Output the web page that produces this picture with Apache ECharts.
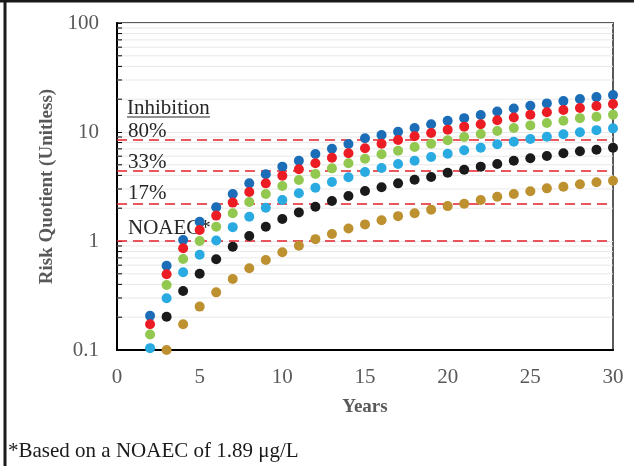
<!DOCTYPE html>
<html>
<head>
<meta charset="utf-8">
<script src="https://cdn.jsdelivr.net/npm/echarts@6/dist/echarts.min.js"></script>
<style>
html,body{margin:0;padding:0;background:#fff;}
#chart{width:634px;height:466px;}
</style>
</head>
<body>
<div id="chart"></div>
<script>
// ---- data ----
const years = [2,3,4,5,6,7,8,9,10,11,12,13,14,15,16,17,18,19,20,21,22,23,24,25,26,27,28,29,30];
const seriesDarkBlue  = [0.206,0.593,1.02,1.50,2.04,2.70,3.38,4.09,4.81,5.45,6.28,7.03,7.76,8.75,9.39,10.07,10.9,11.8,12.7,13.4,14.3,15.4,16.4,17.4,18.3,19.2,20.1,20.9,21.8];
const seriesRed       = [0.172,0.495,0.857,1.26,1.71,2.25,2.82,3.38,3.97,4.55,5.16,5.81,6.38,7.09,7.81,8.45,9.13,9.79,10.5,11.2,11.8,12.8,13.6,14.4,15.2,15.9,16.6,17.3,18.1];
const seriesGreen     = [0.139,0.395,0.684,1.00,1.35,1.80,2.28,2.70,3.20,3.63,4.12,4.64,5.16,5.69,6.24,6.73,7.28,7.81,8.39,9.00,9.59,10.2,10.9,11.5,12.1,12.7,13.4,13.8,14.4];
const seriesLightBlue = [0.104,0.298,0.516,0.749,1.01,1.34,1.67,2.02,2.38,2.74,3.08,3.48,3.84,4.30,4.67,5.09,5.45,5.90,6.32,6.79,7.18,7.71,8.15,8.62,9.06,9.52,9.94,10.4,10.8];
const seriesBlack     = [null,0.202,0.348,0.50,0.68,0.887,1.11,1.35,1.59,1.83,2.06,2.33,2.59,2.88,3.11,3.38,3.65,3.87,4.23,4.51,4.81,5.09,5.45,5.74,6.02,6.38,6.65,6.88,7.18];
const seriesGold      = [null,0.100,0.172,0.25,0.338,0.448,0.562,0.669,0.788,0.906,1.04,1.16,1.30,1.42,1.55,1.69,1.80,1.94,2.09,2.20,2.38,2.55,2.70,2.86,3.04,3.15,3.31,3.46,3.57];
const thresholdValues = [8.45, 4.39, 2.19, 1.0];
const thresholdLabels = ['80%', '33%', '17%', 'NOAEC*'];
const minorGridValues = [0.2,0.3,0.4,0.5,0.6,0.7,0.8,0.9,2,3,4,5,6,7,8,9,20,30,40,50,60,70,80,90];
const xTicks = {min:0, max:30, interval:5};
const yRange = {min:0.1, max:100};

const FONT = 'Liberation Serif';
const chart = echarts.init(document.getElementById('chart'), null, {renderer:'canvas'});

function pairs(vals){
  const out = [];
  vals.forEach((v,i)=>{ if(v!=null) out.push([years[i], v]); });
  return out;
}
const colors = ['#1b6db8','#ec1c24','#92c84f','#29abe2','#1a1a1a','#be9130'];
const allSeries = [seriesDarkBlue, seriesRed, seriesGreen, seriesLightBlue, seriesBlack, seriesGold];

const scatterSeries = allSeries.map((s,i)=>({
  type:'scatter', data:pairs(s), symbol:'circle', symbolSize:10,
  itemStyle:{color:colors[i], opacity:1}, z:5, silent:true
}));

const option = {
  animation:false,
  backgroundColor:'#fff',
  grid:{left:117, top:23, right:21, bottom:116, show:true, borderColor:'#5a5a5a', borderWidth:2, backgroundColor:'transparent'},
  xAxis:{
    type:'value', min:xTicks.min, max:xTicks.max, interval:xTicks.interval,
    name:'Years', nameLocation:'middle', nameGap:48,
    nameTextStyle:{fontFamily:FONT, fontSize:19, fontWeight:'bold', color:'#595959'},
    axisLine:{show:true, onZero:false, lineStyle:{color:'#000', width:2}},
    axisTick:{show:false},
    splitLine:{show:false},
    axisLabel:{fontFamily:FONT, fontSize:21, color:'#595959', margin:17}
  },
  yAxis:{
    type:'log', logBase:10, min:yRange.min, max:yRange.max,
    name:'Risk Quotient (Unitless)', nameLocation:'middle', nameGap:60,
    nameTextStyle:{fontFamily:FONT, fontSize:19, fontWeight:'bold', color:'#595959'},
    axisLine:{show:true, lineStyle:{color:'#000', width:2}},
    axisTick:{show:true, inside:true, length:5, lineStyle:{color:'#000', width:1}},
    splitLine:{show:true, lineStyle:{color:'#e8e8e8', width:1}},
    axisLabel:{fontFamily:FONT, fontSize:21, color:'#595959', margin:18,
      formatter:function(v){ return String(+v.toPrecision(6)); }}
  },
  graphic:[
    {type:'line', shape:{x1:0,y1:1,x2:634,y2:1}, style:{stroke:'#1a1a1a', lineWidth:3}, z:10},
    {type:'line', shape:{x1:5,y1:0,x2:5,y2:466}, style:{stroke:'#1a1a1a', lineWidth:3}, z:10},
    {type:'text', left:127, top:98, style:{text:'Inhibition', font:'21px "Liberation Serif"', fill:'#262626'}, z:3},
    {type:'line', shape:{x1:127,y1:117,x2:210,y2:117}, style:{stroke:'#262626', lineWidth:1.2}, z:3},
    {type:'text', left:128, top:121, style:{text:thresholdLabels[0], font:'21px "Liberation Serif"', fill:'#262626'}, z:3},
    {type:'text', left:128, top:152, style:{text:thresholdLabels[1], font:'21px "Liberation Serif"', fill:'#262626'}, z:3},
    {type:'text', left:128, top:183, style:{text:thresholdLabels[2], font:'21px "Liberation Serif"', fill:'#262626'}, z:3},
    {type:'text', left:128, top:218, style:{text:thresholdLabels[3], font:'21px "Liberation Serif"', fill:'#262626'}, z:3},
    {type:'text', left:8, top:441, style:{text:'*Based on a NOAEC of 1.89 μg/L', font:'21px "Liberation Serif"', fill:'#1a1a1a'}, z:3}
  ],
  series:[
    {
      type:'custom', silent:true, z:1,
      data:minorGridValues.map(v=>[xTicks.min, v]),
      encode:{x:0, y:1},
      renderItem:function(params, api){
        const y = api.coord([xTicks.min, api.value(1)])[1];
        const cs = params.coordSys;
        return {type:'group', children:[
          {type:'line', shape:{x1:cs.x, y1:y, x2:cs.x+cs.width, y2:y}, style:{stroke:'#e8e8e8', lineWidth:1}},
          {type:'line', shape:{x1:cs.x, y1:y, x2:cs.x+5, y2:y}, style:{stroke:'#000', lineWidth:1}}
        ]};
      }
    },
    {
      type:'line', data:[], silent:true, z:2,
      markLine:{
        silent:true, symbol:'none', animation:false,
        label:{show:false},
        lineStyle:{color:'#e4202a', type:[10,6], width:1.6},
        data:thresholdValues.map(v=>({yAxis:v}))
      }
    }
  ].concat(scatterSeries)
};
chart.setOption(option);
</script>
</body>
</html>
